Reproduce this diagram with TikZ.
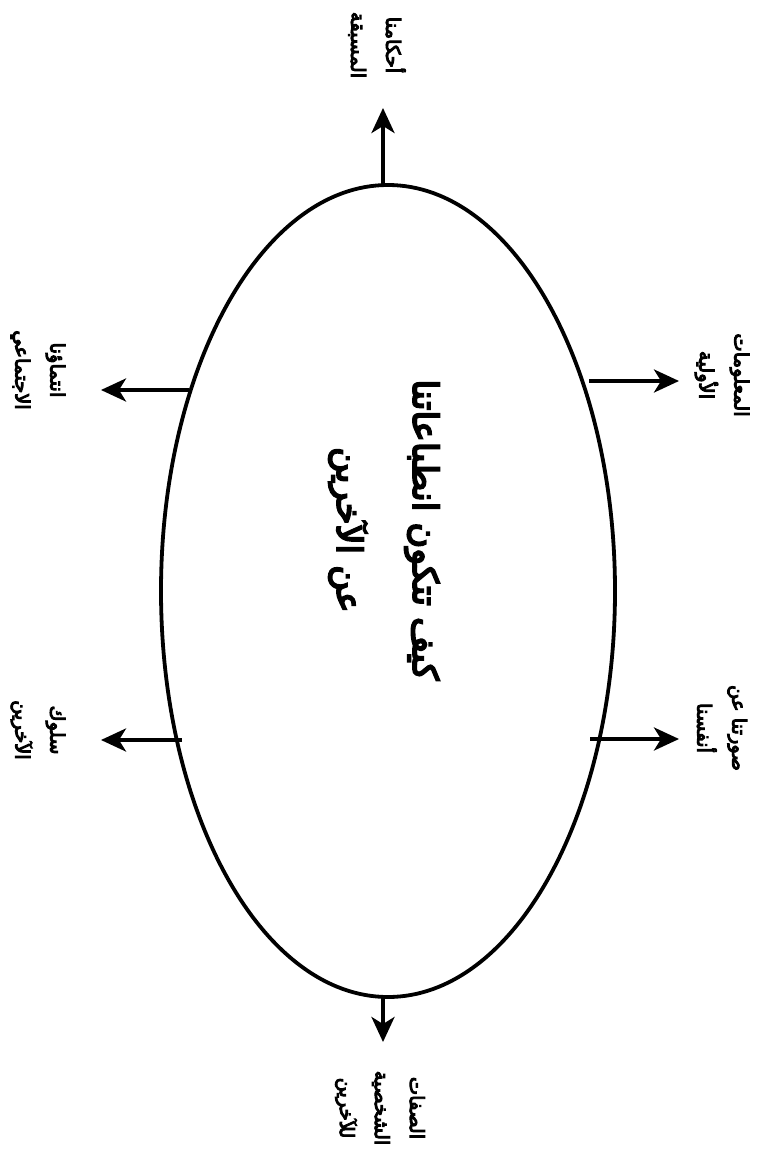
\documentclass[tikz,border=0pt]{standalone}
\usepackage{fontspec}
\newfontfamily\arabicfont[Script=Arabic,FakeBold=5]{DejaVu Sans}
\TeXXeTstate=1
\usetikzlibrary{arrows.meta,shapes.geometric}
\begin{document}
\begin{tikzpicture}[x=1pt,y=-1pt,
  arr/.style={-{Stealth[length=25pt,width=23pt,inset=7pt]},line width=3.8pt},
  lab/.style={rotate=-90,align=center,font=\arabicfont\fontsize{19.5}{35}\selectfont,inner sep=0pt},
  title/.style={rotate=-90,align=center,font=\arabicfont\fontsize{35}{76}\selectfont,inner sep=0pt}]
\useasboundingbox (0,0) rectangle (764,1174);
\node[draw,ellipse,line width=3.8pt,minimum width=454pt,minimum height=812pt,inner sep=0pt] (e) at (388,591) {};
\node[title] (t) at (384,530) {\beginR كيف تتكون انطباعاتنا\endR\\\beginR عن الآخرين\endR};
% label nodes
\node[lab] (top) at (377,45) {\beginR أحكامنا\endR\\\beginR المسبقة\endR};
\node[lab] (rt) at (722,375) {\beginR المعلومات\endR\\\beginR الأولية\endR};
\node[lab] (rb) at (722,728) {\beginR صورتنا عن\endR\\\beginR أنفسنا\endR};
\node[lab] (lt) at (38,370) {\beginR انتماؤنا\endR\\\beginR الاجتماعي\endR};
\node[lab] (lb) at (38,730) {\beginR سلوك\endR\\\beginR الآخرين\endR};
\node[lab] (bot) at (380,1108) {\beginR الصفات\endR\\\beginR الشخصية\endR\\\beginR للآخرين\endR};
% arrow endpoints
\coordinate (tA) at (383,186); \coordinate (tB) at (383,108);
\coordinate (rtA) at (589,381); \coordinate (rtB) at (679,381);
\coordinate (rbA) at (590,739); \coordinate (rbB) at (679,739);
\coordinate (ltA) at (189,390); \coordinate (ltB) at (101,390);
\coordinate (lbA) at (182,740); \coordinate (lbB) at (101,740);
\coordinate (bA) at (383,996); \coordinate (bB) at (383,1042);
\draw[arr] (tA) -- (tB);
\draw[arr] (rtA) -- (rtB);
\draw[arr] (rbA) -- (rbB);
\draw[arr] (ltA) -- (ltB);
\draw[arr] (lbA) -- (lbB);
\draw[arr] (bA) -- (bB);
\end{tikzpicture}
\end{document}
